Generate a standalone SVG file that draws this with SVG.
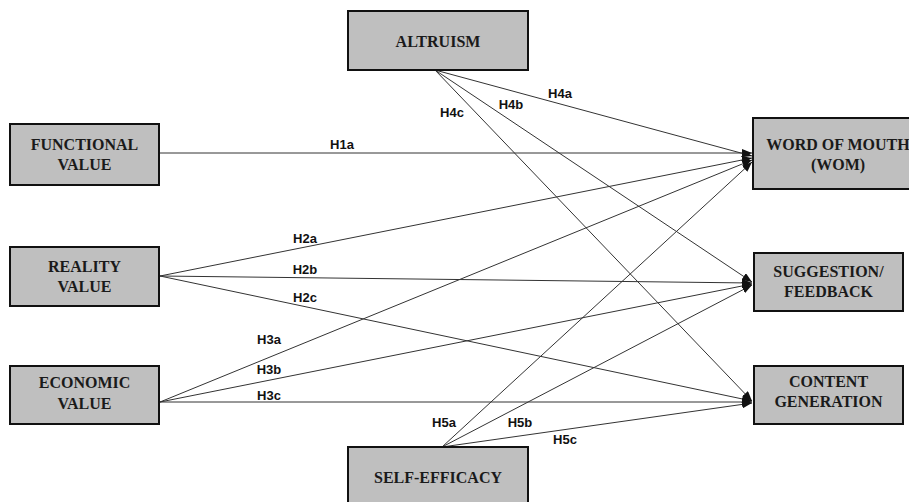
<svg xmlns="http://www.w3.org/2000/svg" width="909" height="502" viewBox="0 0 909 502">
<style>
.box{fill:#bfbfbf;stroke:#111;stroke-width:2}
.nt{font-family:"Liberation Serif","Times New Roman",serif;font-weight:bold;font-size:16px;fill:#1a1a1a;text-anchor:middle}
.lbl{font-family:"Liberation Sans",Arial,sans-serif;font-weight:bold;font-size:13px;fill:#111;text-anchor:middle}
.c{stroke:#333;stroke-width:1;fill:none;marker-end:url(#ah)}
</style>
<defs>
<marker id="ah" markerUnits="userSpaceOnUse" markerWidth="10" markerHeight="8" refX="10" refY="4" orient="auto">
<path d="M0,0 L10,4 L0,8 Z" fill="#111"/>
</marker>
</defs>
<rect width="909" height="502" fill="#fff"/>
<g id="connectors">
<line class="c" x1="159" y1="153" x2="752" y2="153"/>
<line class="c" x1="435" y1="70" x2="752" y2="156"/>
<line class="c" x1="160" y1="276" x2="752" y2="158"/>
<line class="c" x1="160" y1="402" x2="752" y2="160"/>
<line class="c" x1="442" y1="447" x2="752" y2="162"/>
<line class="c" x1="435" y1="70" x2="752" y2="282"/>
<line class="c" x1="160" y1="276" x2="752" y2="283"/>
<line class="c" x1="160" y1="402" x2="752" y2="284"/>
<line class="c" x1="442" y1="447" x2="752" y2="285"/>
<line class="c" x1="435" y1="70" x2="752" y2="401"/>
<line class="c" x1="160" y1="276" x2="752" y2="401"/>
<line class="c" x1="160" y1="402" x2="752" y2="402"/>
<line class="c" x1="442" y1="447" x2="752" y2="403"/>
<text class="lbl" x="342" y="149">H1a</text>
<text class="lbl" x="560" y="98">H4a</text>
<text class="lbl" x="511" y="109">H4b</text>
<text class="lbl" x="452" y="117">H4c</text>
<text class="lbl" x="305" y="243">H2a</text>
<text class="lbl" x="305" y="274">H2b</text>
<text class="lbl" x="305" y="302">H2c</text>
<text class="lbl" x="269" y="344">H3a</text>
<text class="lbl" x="269" y="374">H3b</text>
<text class="lbl" x="269" y="400">H3c</text>
<text class="lbl" x="444" y="427">H5a</text>
<text class="lbl" x="520" y="427">H5b</text>
<text class="lbl" x="565" y="444">H5c</text>
</g>
<g id="altruism">
<rect class="box" x="348" y="11" width="180" height="59"/>
<text class="nt" x="438" y="47">ALTRUISM</text>
</g>
<g id="functional">
<rect class="box" x="10" y="124" width="149" height="61"/>
<text class="nt" x="84.5" y="150">FUNCTIONAL</text>
<text class="nt" x="84.5" y="170">VALUE</text>
</g>
<g id="reality">
<rect class="box" x="10" y="247" width="149" height="59"/>
<text class="nt" x="84.5" y="272">REALITY</text>
<text class="nt" x="84.5" y="292">VALUE</text>
</g>
<g id="economic">
<rect class="box" x="10" y="366" width="149" height="58"/>
<text class="nt" x="84.5" y="388">ECONOMIC</text>
<text class="nt" x="84.5" y="409">VALUE</text>
</g>
<g id="selfefficacy">
<rect class="box" x="348" y="447" width="180" height="60"/>
<text class="nt" x="438" y="483">SELF-EFFICACY</text>
</g>
<g id="wom">
<rect class="box" x="753" y="118" width="170" height="71"/>
<text class="nt" x="838" y="150">WORD OF MOUTH</text>
<text class="nt" x="838" y="170">(WOM)</text>
</g>
<g id="suggestion">
<rect class="box" x="754" y="253" width="149" height="58"/>
<text class="nt" x="828.5" y="277">SUGGESTION/</text>
<text class="nt" x="828.5" y="297">FEEDBACK</text>
</g>
<g id="content">
<rect class="box" x="754" y="366" width="149" height="58"/>
<text class="nt" x="828.5" y="387">CONTENT</text>
<text class="nt" x="828.5" y="407">GENERATION</text>
</g>
</svg>
